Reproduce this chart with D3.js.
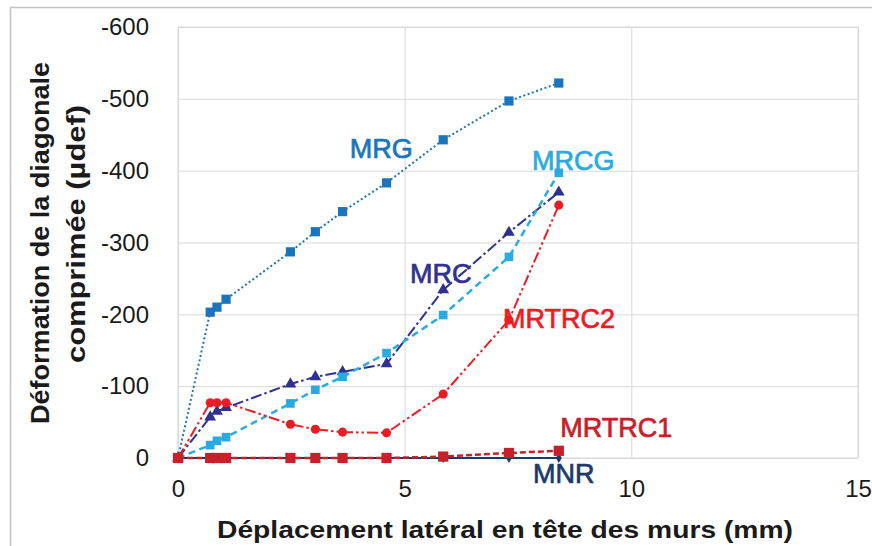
<!DOCTYPE html>
<html>
<head>
  <meta charset="utf-8">
  <title>Déformation de la diagonale comprimée</title>
  <script src="https://d3js.org/d3.v7.min.js"></script>
  <style>
    body {
      margin: 0;
      padding: 0;
      background: white;
    }
    svg {
      font-family: "Liberation Sans", Arial, sans-serif;
      display: block;
    }
    .tick text {
      font-size: 24px;
      fill: #1a1a1a;
    }
    .grid line {
      stroke: #d9d9d9;
    }
  </style>
</head>
<body>
<div id="chart"></div>
<script>
  // displacement at wall head (mm), shared by every series
  var displacement = [0, 0.71, 0.86, 1.06, 2.48, 3.03, 3.63, 4.6, 5.85, 7.3, 8.4];

  // strain of the compressed diagonal (µdef)
  var mrg    = [0, -203, -210, -221, -287, -315, -343, -383, -443, -497, -522];
  var mrc    = [0, -57, -65, -70, -103, -113, -120, -131, -234, -314, -370];
  var mrcg   = [0, -18, -24, -29, -76, -95, -113, -146, -199, -280, -397];
  var mrtrc2 = [0, -77, -77, -77, -47, -40, -36, -35, -89, -192, -352];
  var mrtrc1 = [0, 0, 0, 0, 0, 0, 0, 0, -2, -7, -10];
  var mnr    = [0, 0, 0, 0, 0, 0, 0, 0, 0, 0, 0];

  var xTicks = [0, 5, 10, 15];
  var yTicks = [0, -100, -200, -300, -400, -500, -600];

  var width = 872, height = 546;
  var plotL = 178, plotR = 858, plotT = 27, plotB = 458;

  var svg = d3.select("#chart").append("svg")
    .attr("width", width)
    .attr("height", height);

  // outer frame of the figure
  svg.append("path")
    .attr("d", "M10.5,546 V7.5 H872")
    .attr("fill", "none")
    .attr("stroke", "#c4c4c4")
    .attr("stroke-width", 1.5);

  var x = d3.scaleLinear().domain([0, 15]).range([plotL, plotR]);
  var y = d3.scaleLinear().domain([0, -600]).range([plotB, plotT]);

  // plain hyphen like the original, not the unicode minus
  var fmt = function(d) { return String(d); };

  // gridlines
  svg.append("g")
    .attr("class", "grid")
    .attr("transform", "translate(0," + plotB + ")")
    .call(d3.axisBottom(x).tickValues(xTicks).tickSize(-(plotB - plotT)).tickFormat(""))
    .call(function(g) { g.select(".domain").remove(); });

  svg.append("g")
    .attr("class", "grid")
    .attr("transform", "translate(" + plotL + ",0)")
    .call(d3.axisLeft(y).tickValues(yTicks).tickSize(-(plotR - plotL)).tickFormat(""))
    .call(function(g) { g.select(".domain").remove(); });

  svg.append("rect")
    .attr("x", plotL).attr("y", plotT)
    .attr("width", plotR - plotL).attr("height", plotB - plotT)
    .attr("fill", "none")
    .attr("stroke", "#d9d9d9");

  // tick labels
  svg.append("g")
    .attr("transform", "translate(0," + plotB + ")")
    .call(d3.axisBottom(x).tickValues(xTicks).tickSize(0).tickPadding(22).tickFormat(fmt))
    .call(function(g) { g.select(".domain").remove(); });

  svg.append("g")
    .attr("transform", "translate(" + plotL + ",0)")
    .call(d3.axisLeft(y).tickValues(yTicks).tickSize(0).tickPadding(29).tickFormat(fmt))
    .call(function(g) { g.select(".domain").remove(); });

  svg.selectAll(".tick text").attr("font-family", "'Liberation Sans', Arial, sans-serif");

  // series
  var series = [
    { name: "MRG",    values: mrg,    color: "#1b75bc", dash: "2,2.5",        symbol: d3.symbolSquare,   size: 85,  lw: 2 },
    { name: "MRC",    values: mrc,    color: "#2e3192", dash: "11,3,2.5,3",   symbol: d3.symbolTriangle, size: 60,  lw: 2 },
    { name: "MRCG",   values: mrcg,   color: "#29abe2", dash: "7,4.5",        symbol: d3.symbolSquare,   size: 75,  lw: 2.5 },
    { name: "MRTRC2", values: mrtrc2, color: "#ed1c24", dash: "11,3,2.5,3,2.5,3", symbol: d3.symbolCircle, size: 65, lw: 2 },
    { name: "MNR",    values: mnr,    color: "#1b3a6b", dash: null,           symbol: d3.symbolDiamond,  size: 30,  lw: 2 },
    { name: "MRTRC1", values: mrtrc1, color: "#c8202a", dash: "6,3",          symbol: d3.symbolSquare,   size: 105, lw: 2.5 }
  ];

  var line = d3.line()
    .x(function(d) { return x(d[0]); })
    .y(function(d) { return y(d[1]); });

  series.forEach(function(s) {
    var pts = displacement.map(function(v, i) { return [v, s.values[i]]; });
    var g = svg.append("g").attr("class", "series");
    g.append("path")
      .datum(pts)
      .attr("d", line)
      .attr("fill", "none")
      .attr("stroke", s.color)
      .attr("stroke-width", s.lw)
      .attr("stroke-dasharray", s.dash);
    g.selectAll(".pt")
      .data(pts)
      .enter().append("path")
        .attr("class", "pt")
        .attr("transform", function(d) { return "translate(" + x(d[0]) + "," + y(d[1]) + ")"; })
        .attr("d", d3.symbol().type(s.symbol).size(s.size))
        .attr("fill", s.color);
  });

  // series labels, anchored in data units
  var labels = [
    { text: "MRG",    at: [3.79, -418], color: "#1b75bc" },
    { text: "MRCG",   at: [7.81, -401], color: "#29abe2" },
    { text: "MRC",    at: [5.12, -244], color: "#2e3192" },
    { text: "MRTRC2", at: [7.17, -181], color: "#ed1c24" },
    { text: "MRTRC1", at: [8.43, -29],  color: "#c8202a" },
    { text: "MNR",    at: [7.83, 35],   color: "#1b3a6b" }
  ];

  svg.selectAll(".lbl")
    .data(labels)
    .enter().append("text")
      .attr("class", "lbl")
      .attr("x", function(d) { return x(d.at[0]); })
      .attr("y", function(d) { return y(d.at[1]); })
      .attr("font-size", 27)
      .attr("fill", function(d) { return d.color; })
      .attr("stroke", function(d) { return d.color; })
      .attr("stroke-width", 0.7)
      .text(function(d) { return d.text; });

  // axis titles
  svg.append("text")
    .attr("x", 505).attr("y", 538)
    .attr("text-anchor", "middle")
    .attr("font-size", 24)
    .attr("font-weight", "bold")
    .attr("fill", "#1a1a1a")
    .attr("textLength", 576)
    .attr("lengthAdjust", "spacingAndGlyphs")
    .text("Déplacement latéral en tête des murs (mm)");

  var yt = svg.append("g").attr("transform", "translate(0,243) rotate(-90)");
  yt.append("text")
    .attr("x", 0).attr("y", 49)
    .attr("text-anchor", "middle")
    .attr("font-size", 25)
    .attr("font-weight", "bold")
    .attr("fill", "#1a1a1a")
    .attr("textLength", 362)
    .attr("lengthAdjust", "spacingAndGlyphs")
    .text("Déformation de la diagonale");
  yt.append("text")
    .attr("x", 9).attr("y", 85)
    .attr("text-anchor", "middle")
    .attr("font-size", 25)
    .attr("font-weight", "bold")
    .attr("fill", "#1a1a1a")
    .attr("textLength", 258)
    .attr("lengthAdjust", "spacingAndGlyphs")
    .text("comprimée (µdef)");
</script>
</body>
</html>
